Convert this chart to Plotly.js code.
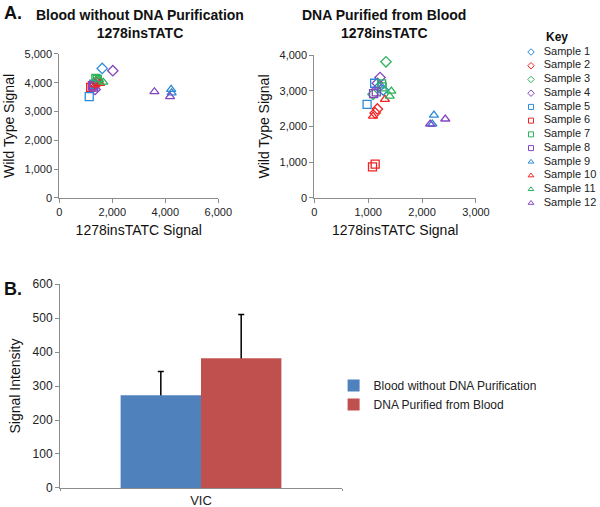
<!DOCTYPE html>
<html>
<head>
<meta charset="utf-8">
<script src="https://cdn.plot.ly/plotly-3.0.1.min.js"></script>
<style>
  html, body { margin: 0; padding: 0; background: #fff; }
  #chart { width: 600px; height: 507px; }
</style>
</head>
<body>
<div id="chart"></div>
<script>
const samples = ['Sample 1', 'Sample 2', 'Sample 3', 'Sample 4', 'Sample 5', 'Sample 6',
  'Sample 7', 'Sample 8', 'Sample 9', 'Sample 10', 'Sample 11', 'Sample 12'];

// panel A, left: blood without DNA purification (two replicates per sample)
const bloodX = [[1620, 1300], [1350, 1420], [1400, 1450], [2020, 1350], [1130, 1300], [1185, 1250],
  [1435, 1380], [1260, 1300], [4220, 4240], [1360, 1540], [1660, 1500], [3590, 4180]];
const bloodY = [[4500, 3950], [3950, 4000], [4050, 4100], [4420, 3770], [3520, 3950], [3840, 3900],
  [4120, 4150], [3890, 3850], [3770, 3650], [3930, 3980], [4020, 4100], [3690, 3520]];

// panel A, right: DNA purified from blood
const purX = [[1280, 1200], [1170, 1130], [1330, 1090], [1220, 1170], [980, 1120], [1080, 1130],
  [1250, 1260], [1100, 1150], [2220, 2190], [1090, 1310], [1430, 1400], [2150, 2430]];
const purY = [[3020, 3100], [2490, 2380], [3810, 2900], [3370, 3210], [2620, 3210], [870, 950],
  [3190, 3110], [2920, 2970], [2320, 2070], [2290, 2760], [2990, 2850], [2070, 2210]];

// panel B
const groups = ['Blood without DNA Purification', 'DNA Purified from Blood'];
const category = ['VIC'];
const intensity = [273, 382];
const intensityErr = [70, 128];

const colors = ['#2b8ad8', '#f02424', '#2db35c', '#8446c0'];
const symbols = ['diamond-open', 'square-open', 'triangle-up-open'];
const barColors = ['#4f81bd', '#c0504d'];

const FONT = 'Liberation Sans, Arial, Helvetica, sans-serif';
const axisGray = '#8c8c8c';

const traces = [];
samples.forEach((s, i) => {
  const marker = {
    symbol: symbols[Math.floor(i / 4)],
    color: colors[i % 4],
    size: 8,
    line: { width: 1.3, color: colors[i % 4] }
  };
  traces.push({
    type: 'scatter', mode: 'markers', x: bloodX[i], y: bloodY[i],
    xaxis: 'x', yaxis: 'y', marker, name: s, showlegend: false, hoverinfo: 'x+y+name'
  });
  traces.push({
    type: 'scatter', mode: 'markers', x: purX[i], y: purY[i],
    xaxis: 'x2', yaxis: 'y2', marker, name: s, showlegend: false, hoverinfo: 'x+y+name'
  });
});

// key for the samples, drawn on its own hidden axes
traces.push({
  type: 'scatter', mode: 'markers',
  x: samples.map(() => 0.08),
  y: samples.map((s, i) => i),
  marker: {
    symbol: samples.map((s, i) => symbols[Math.floor(i / 4)]),
    color: samples.map((s, i) => colors[i % 4]),
    size: 5,
    line: { width: 1, color: samples.map((s, i) => colors[i % 4]) }
  },
  xaxis: 'x4', yaxis: 'y4', showlegend: false, hoverinfo: 'skip', cliponaxis: false
});
traces.push({
  type: 'scatter', mode: 'text',
  x: samples.map(() => 0.25),
  y: samples.map((s, i) => i),
  text: samples,
  textposition: 'middle right',
  textfont: { family: FONT, size: 11, color: '#222' },
  xaxis: 'x4', yaxis: 'y4', showlegend: false, hoverinfo: 'skip', cliponaxis: false
});

// bars: a transparent twin carries the error bar so the bar itself hides its lower half
groups.forEach((g, i) => {
  traces.push({
    type: 'bar', x: category, y: [intensity[i]], name: g + ' error',
    xaxis: 'x3', yaxis: 'y3', offsetgroup: 'g' + i, showlegend: false, hoverinfo: 'skip',
    marker: { color: 'rgba(0,0,0,0)' },
    error_y: { type: 'data', array: [intensityErr[i]], color: '#000', thickness: 1.5, width: 3 }
  });
  traces.push({
    type: 'bar', x: category, y: [intensity[i]], name: g,
    xaxis: 'x3', yaxis: 'y3', offsetgroup: 'g' + i,
    marker: { color: barColors[i] }
  });
});

const tickFont = { family: FONT, size: 11, color: '#222' };
const titleFont = { family: FONT, size: 14, color: '#111' };

function axis(extra) {
  return Object.assign({
    showline: true, linecolor: axisGray, linewidth: 1,
    ticks: 'outside', ticklen: 4, tickcolor: axisGray,
    showgrid: false, zeroline: false, tickfont: tickFont,
    tickformat: ',d', fixedrange: true
  }, extra);
}

const layout = {
  width: 600, height: 507,
  margin: { l: 0, r: 0, t: 0, b: 0 },
  paper_bgcolor: '#fff', plot_bgcolor: '#fff',
  font: { family: FONT },
  barmode: 'group', bargap: 0.43, bargroupgap: 0,
  xaxis: axis({ domain: [0.0988, 0.3638], range: [0, 6000], dtick: 2000, anchor: 'y',
    title: { text: '1278insTATC Signal', font: titleFont, standoff: 8 } }),
  yaxis: axis({ domain: [0.6095, 0.8935], range: [0, 5000], dtick: 1000, anchor: 'x',
    title: { text: 'Wild Type Signal', font: titleFont, standoff: 6 } }),
  xaxis2: axis({ domain: [0.5238, 0.7933], range: [0, 3000], dtick: 1000, anchor: 'y2',
    title: { text: '1278insTATC Signal', font: titleFont, standoff: 8 } }),
  yaxis2: axis({ domain: [0.6095, 0.8915], range: [0, 4000], dtick: 1000, anchor: 'x2',
    title: { text: 'Wild Type Signal', font: titleFont, standoff: 6 } }),
  xaxis3: axis({ domain: [0.1, 0.57], anchor: 'y3', type: 'category', range: [-0.5, 0.5],
    tickson: 'boundaries', ticklen: 2, tickfont: { family: FONT, size: 13, color: '#222' }, tickformat: '' }),
  yaxis3: axis({ domain: [0.0375, 0.4398], range: [0, 600], dtick: 100, anchor: 'x3',
    tickfont: { family: FONT, size: 12, color: '#222' },
    title: { text: 'Signal Intensity', font: titleFont, standoff: 8 } }),
  xaxis4: { domain: [0.875, 1], range: [0, 1], visible: false, fixedrange: true, anchor: 'y4' },
  yaxis4: { domain: [0.586, 0.911], range: [11.5, -0.5], visible: false, fixedrange: true, anchor: 'x4' },
  legend: {
    x: 0.556, xanchor: 'left', y: 0.268, yanchor: 'top',
    font: { family: FONT, size: 12, color: '#222' },
    bgcolor: 'rgba(0,0,0,0)', tracegroupgap: 0, itemwidth: 30
  },
  annotations: [
    { text: '<b>A.</b>', x: 0.003, y: 0.999, xref: 'paper', yref: 'paper', xanchor: 'left', yanchor: 'top',
      showarrow: false, font: { family: FONT, size: 18, color: '#111' } },
    { text: '<b>B.</b>', x: 0.003, y: 1 - 289 / 507, xref: 'paper', yref: 'paper', xanchor: 'left', yanchor: 'middle',
      showarrow: false, font: { family: FONT, size: 18, color: '#111' } },
    { text: '<b>Blood without DNA Purification<br>1278insTATC</b>', x: 140 / 600, y: 1 - 5 / 507,
      xref: 'paper', yref: 'paper', xanchor: 'center', yanchor: 'top', showarrow: false,
      font: { family: FONT, size: 14, color: '#111' } },
    { text: '<b>DNA Purified from Blood<br>1278insTATC</b>', x: 384 / 600, y: 1 - 5 / 507,
      xref: 'paper', yref: 'paper', xanchor: 'center', yanchor: 'top', showarrow: false,
      font: { family: FONT, size: 14, color: '#111' } },
    { text: '<b>Key</b>', x: 544 / 600, y: 1 - 37 / 507, xref: 'paper', yref: 'paper',
      xanchor: 'left', yanchor: 'middle', showarrow: false,
      font: { family: FONT, size: 12, color: '#111' } }
  ]
};

Plotly.newPlot('chart', traces, layout, { displayModeBar: false, staticPlot: true });
</script>
</body>
</html>
